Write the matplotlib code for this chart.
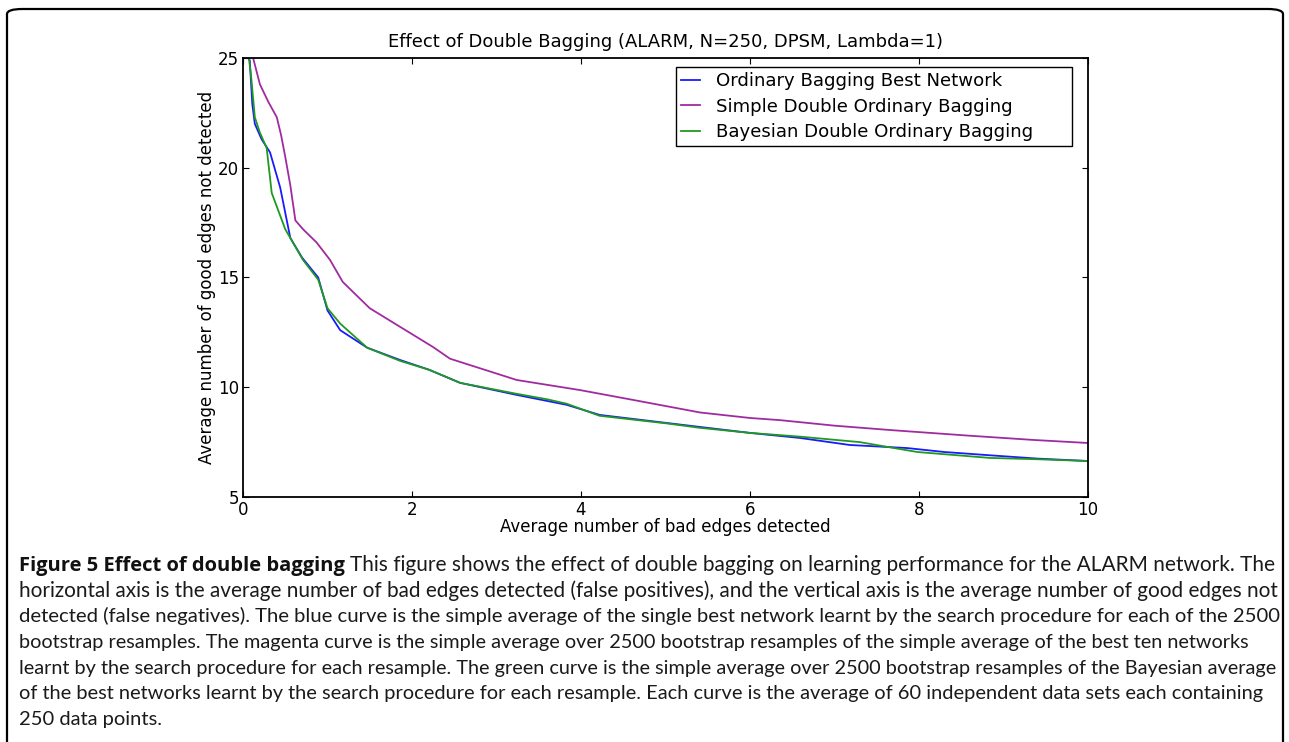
import matplotlib.pyplot as plt
from matplotlib.patches import FancyBboxPatch

# curve data (average bad edges detected vs average good edges missed)
blue_x = [0.06, 0.08, 0.11, 0.14, 0.22, 0.32, 0.44, 0.56, 0.70, 0.89, 1.00, 1.15,
          1.47, 1.86, 2.20, 2.57, 3.24, 3.83, 4.22, 5.02, 5.41, 6.00, 6.59, 7.18,
          7.86, 8.30, 8.84, 9.40, 10.0]
blue_y = [25.0, 24.9, 22.9, 22.0, 21.3, 20.7, 19.1, 16.8, 15.9, 15.0, 13.5, 12.6,
          11.8, 11.24, 10.8, 10.2, 9.65, 9.2, 8.74, 8.37, 8.19, 7.92, 7.69, 7.37,
          7.23, 7.05, 6.9, 6.75, 6.64]

magenta_x = [0.12, 0.20, 0.30, 0.40, 0.45, 0.50, 0.56, 0.62, 0.71, 0.87, 1.03, 1.18,
             1.50, 1.86, 2.25, 2.45, 3.24, 3.99, 4.62, 5.41, 6.00, 6.36, 7.00, 7.66,
             8.57, 9.35, 10.0]
magenta_y = [25.0, 23.8, 23.0, 22.3, 21.5, 20.5, 19.2, 17.6, 17.2, 16.6, 15.8, 14.8,
             13.6, 12.75, 11.83, 11.3, 10.33, 9.87, 9.42, 8.85, 8.6, 8.5, 8.25, 8.05,
             7.8, 7.6, 7.46]

green_x = [0.07, 0.10, 0.14, 0.20, 0.28, 0.34, 0.50, 0.71, 0.89, 1.00, 1.15, 1.47,
           1.86, 2.20, 2.57, 3.24, 3.60, 3.83, 4.22, 5.02, 5.41, 6.00, 6.59, 7.30,
           7.60, 7.98, 8.84, 9.40, 10.0]
green_y = [25.0, 24.0, 22.3, 21.6, 20.9, 18.85, 17.2, 15.8, 14.9, 13.6, 12.9, 11.8,
           11.2, 10.8, 10.2, 9.7, 9.45, 9.25, 8.7, 8.35, 8.15, 7.92, 7.75, 7.5,
           7.3, 7.05, 6.78, 6.72, 6.64]

labels = ['Ordinary Bagging Best Network',
          'Simple Double Ordinary Bagging',
          'Bayesian Double Ordinary Bagging']

caption_bold = 'Figure 5 Effect of double bagging'
caption_lines = [
    'This figure shows the effect of double bagging on learning performance for the ALARM network. The',
    'horizontal axis is the average number of bad edges detected (false positives), and the vertical axis is the average number of good edges not',
    'detected (false negatives). The blue curve is the simple average of the single best network learnt by the search procedure for each of the 2500',
    'bootstrap resamples. The magenta curve is the simple average over 2500 bootstrap resamples of the simple average of the best ten networks',
    'learnt by the search procedure for each resample. The green curve is the simple average over 2500 bootstrap resamples of the Bayesian average',
    'of the best networks learnt by the search procedure for each resample. Each curve is the average of 60 independent data sets each containing',
    '250 data points.',
]
# right edge (px) each caption line should reach; None = leave at base size
line_ends = [1275, 1275, 1278, 1245, 1277, 1258, None]

W, H = 1289, 742
fig = plt.figure(figsize=(W / 100, H / 100), dpi=100)

# rounded frame around figure + caption (bottom runs off the page)
frame = FancyBboxPatch((7 / W, -0.05), (W - 13) / W, (H - 9) / H + 0.05,
                       boxstyle='round,pad=0,rounding_size=0.012',
                       transform=fig.transFigure, fill=False, lw=1.6,
                       ec='black', mutation_aspect=H / W)
fig.patches.append(frame)

ax = fig.add_axes([243 / W, 1 - 497 / H, (1088 - 243) / W, (497 - 58) / H])
ax.plot(blue_x, blue_y, color='#1a1aff', lw=1.3, label=labels[0])
ax.plot(magenta_x, magenta_y, color='#a02ba0', lw=1.3, label=labels[1])
ax.plot(green_x, green_y, color='#1f9a1f', lw=1.3, label=labels[2])

ax.set_xlim(0, 10)
ax.set_ylim(5, 25)
ax.set_xticks([0, 2, 4, 6, 8, 10])
ax.set_yticks([5, 10, 15, 20, 25])
ax.tick_params(direction='in', top=True, right=True, length=4, labelsize=12,
               pad=3)
for s in ax.spines.values():
    s.set_linewidth(1.3)

ax.set_title('Effect of Double Bagging (ALARM, N=250, DPSM, Lambda=1)',
             fontsize=13, pad=8)
ax.set_xlabel('Average number of bad edges detected', fontsize=12, labelpad=-0.5)
ax.set_ylabel('Average number of good edges not detected', fontsize=12,
              labelpad=1)

# legend box stretched to a fixed width, leaving room on the right
lx0 = (676 - 243) / 845
lx1 = (1072 - 243) / 845
ltop = (497 - 67) / 439
leg = ax.legend(loc='upper left', bbox_to_anchor=(lx0, ltop - 0.3, lx1 - lx0, 0.3),
                mode='expand', fontsize=13.1, handlelength=1.0,
                handletextpad=0.9, fancybox=False, edgecolor='black',
                framealpha=1, borderpad=0.3, labelspacing=0.4,
                borderaxespad=0)
leg.get_frame().set_linewidth(1.0)

# caption under the chart
cap_size = 14.5
x0 = 19 / W
y0 = 1 - 571 / H
step = 25.7 / H
bold = fig.text(x0, y0, caption_bold, fontsize=cap_size, family='Open Sans',
                weight='bold', va='baseline', color='#111111')
fig.canvas.draw()
renderer = fig.canvas.get_renderer()
bb = bold.get_window_extent(renderer)

for i, line in enumerate(caption_lines):
    xs = (bb.x1 + 5) if i == 0 else 19
    t = fig.text(xs / W, y0 - i * step, line, fontsize=cap_size, family='Lato',
                 va='baseline', color='#1a1a1a')
    if line_ends[i] is not None:
        w = t.get_window_extent(renderer).width
        t.set_fontsize(cap_size * (line_ends[i] - xs) / w)

fig.savefig('out.png', dpi=100)
